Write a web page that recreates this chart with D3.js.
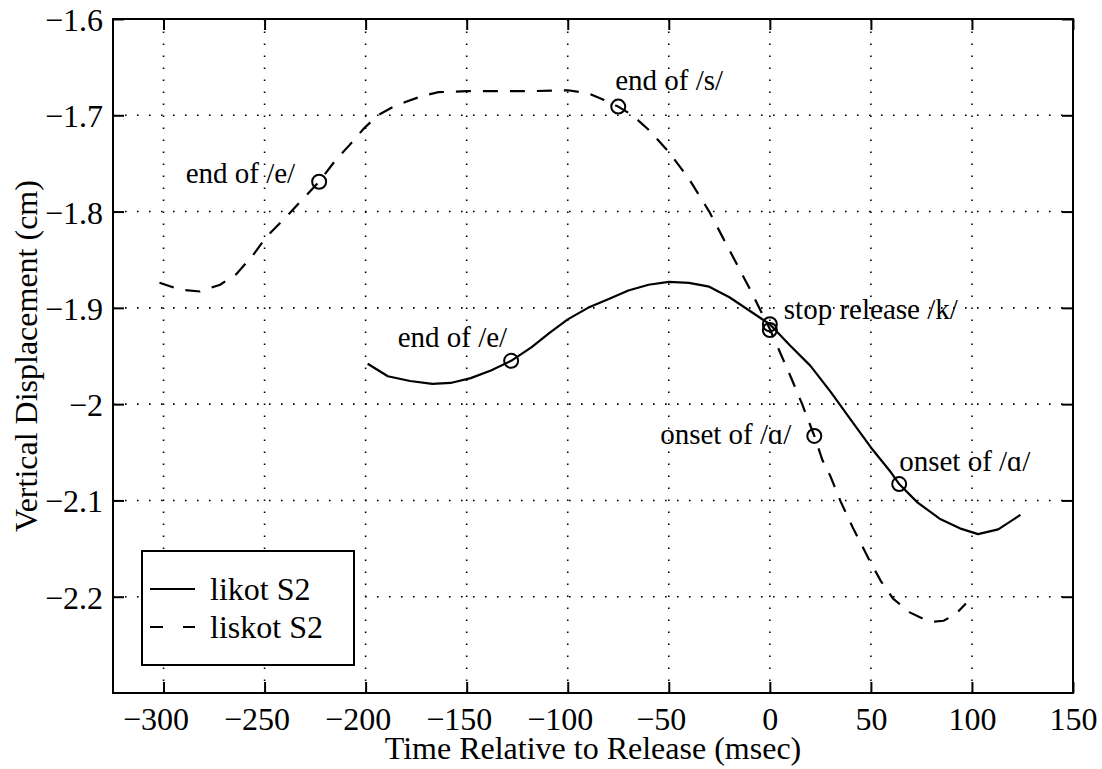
<!DOCTYPE html>
<html>
<head>
<meta charset="utf-8">
<script src="https://cdn.jsdelivr.net/npm/d3@7"></script>
<style>
  body { margin: 0; background: #fff; }
  svg { font-family: "Liberation Serif", "Times New Roman", serif; }
</style>
</head>
<body>
<script>
// likot S2 (solid)
var likotTime = [-199,-189,-178,-167,-158,-148,-138,-128,-118,-109,-100,-90,-80,-70,-60,-50,-40,-30,-20,-10,0,10,20,30,40,50,60,64,73,84,94,103,113,124];
var likotDisp = [-1.958,-1.971,-1.976,-1.979,-1.978,-1.973,-1.965,-1.955,-1.941,-1.926,-1.912,-1.900,-1.891,-1.882,-1.876,-1.873,-1.874,-1.878,-1.889,-1.903,-1.917,-1.939,-1.960,-1.987,-2.016,-2.045,-2.071,-2.083,-2.102,-2.119,-2.129,-2.135,-2.130,-2.115];

// liskot S2 (dashed)
var liskotTime = [-302,-292,-282,-272,-264,-256,-249,-240,-232,-223,-215,-208,-201,-194,-187,-180,-172,-164,-150,-135,-120,-100,-90,-82,-75,-68,-60,-50,-40,-30,-20,-10,0,10,16,22,26,30,35,41,49,55,61,69,75,81,86,92,97];
var liskotDisp = [-1.874,-1.881,-1.883,-1.876,-1.865,-1.846,-1.826,-1.807,-1.789,-1.769,-1.747,-1.731,-1.714,-1.700,-1.692,-1.686,-1.680,-1.676,-1.675,-1.675,-1.675,-1.674,-1.677,-1.684,-1.691,-1.700,-1.715,-1.738,-1.766,-1.800,-1.840,-1.880,-1.922,-1.970,-2.000,-2.033,-2.058,-2.075,-2.101,-2.128,-2.161,-2.184,-2.202,-2.216,-2.222,-2.226,-2.225,-2.218,-2.207];

// event markers
var markTime = [-223, -75, 22, -128, 0, 64, 0];
var markDisp = [-1.769, -1.691, -2.033, -1.955, -1.917, -2.083, -1.923];
var markLabel = ["end of /e/", "end of /s/", "onset of /\u0251/", "end of /e/", "stop release /k/", "onset of /\u0251/", ""];

var xTicks = [-300,-250,-200,-150,-100,-50,0,50,100,150];
var xTickLabels = ["\u2212300","\u2212250","\u2212200","\u2212150","\u2212100","\u221250","0","50","100","150"];
var yTicks = [-1.6,-1.7,-1.8,-1.9,-2.0,-2.1,-2.2];
var yTickLabels = ["\u22121.6","\u22121.7","\u22121.8","\u22121.9","\u22122","\u22122.1","\u22122.2"];

var seriesNames = ["likot S2", "liskot S2"];

// label placement relative to marker (px)
var labelPos = [
  {dx: -24, dy: 1, anchor: "end"},
  {dx: -3, dy: -17, anchor: "start"},
  {dx: -23, dy: 8, anchor: "end"},
  {dx: -4, dy: -14, anchor: "end"},
  {dx: 14, dy: -5, anchor: "start"},
  {dx: 0, dy: -13, anchor: "start"},
  null
];

var W = 1102, H = 769;
var plotL = 113, plotR = 1073, plotT = 19, plotB = 693;

var svg = d3.select("body").append("svg")
    .attr("width", W)
    .attr("height", H);

svg.append("rect").attr("width", W).attr("height", H).attr("fill", "#fff");

var x = d3.scaleLinear().domain([-325, 150]).range([plotL, plotR]);
var y = d3.scaleLinear().domain([-2.3, -1.6]).range([plotB, plotT]);

// grid
var grid = svg.append("g").attr("stroke", "#000").attr("stroke-width", 1.6)
    .attr("stroke-dasharray", "1.6,10.4");
grid.selectAll(".vg").data(xTicks.slice(0, -1))
  .enter().append("line")
    .attr("x1", function(d) { return x(d); }).attr("x2", function(d) { return x(d); })
    .attr("y1", plotB).attr("y2", plotT);
grid.selectAll(".hg").data(yTicks.slice(1))
  .enter().append("line")
    .attr("y1", function(d) { return y(d); }).attr("y2", function(d) { return y(d); })
    .attr("x1", plotL).attr("x2", plotR);

// axes with inward ticks on all four sides
var fs = 32;
var xAxisB = d3.axisBottom(x).tickValues(xTicks).tickSizeInner(-11).tickSizeOuter(0)
    .tickFormat(function(d, i) { return xTickLabels[i]; });
var xAxisT = d3.axisTop(x).tickValues(xTicks).tickSizeInner(-11).tickSizeOuter(0).tickFormat("");
var yAxisL = d3.axisLeft(y).tickValues(yTicks).tickSizeInner(-11).tickSizeOuter(0)
    .tickFormat(function(d, i) { return yTickLabels[i]; });
var yAxisR = d3.axisRight(y).tickValues(yTicks).tickSizeInner(-11).tickSizeOuter(0).tickFormat("");

function styleAxis(g) {
  g.select(".domain").remove();
  g.selectAll("line").attr("stroke", "#000").attr("stroke-width", 2);
  g.selectAll("text").attr("fill", "#000").style("font-size", fs + "px")
    .style("font-family", "Liberation Serif, serif");
}

svg.append("g").attr("transform", "translate(0," + plotB + ")").call(xAxisB).call(styleAxis)
  .selectAll("text").attr("y", 14).attr("dy", "0.71em")
    .attr("dx", function(d) { return d < 0 ? -8 : 0; });
svg.append("g").attr("transform", "translate(0," + plotT + ")").call(xAxisT).call(styleAxis);
svg.append("g").attr("transform", "translate(" + plotL + ",0)").call(yAxisL).call(styleAxis)
  .selectAll("text").attr("x", -10).attr("dy", "0.36em");
svg.append("g").attr("transform", "translate(" + plotR + ",0)").call(yAxisR).call(styleAxis);

// frame
svg.append("rect")
    .attr("x", plotL).attr("y", plotT)
    .attr("width", plotR - plotL).attr("height", plotB - plotT)
    .attr("fill", "none").attr("stroke", "#000").attr("stroke-width", 2);

var line = d3.line()
    .x(function(d) { return x(d[0]); })
    .y(function(d) { return y(d[1]); });

svg.append("path")
    .datum(d3.zip(likotTime, likotDisp))
    .attr("d", line)
    .attr("fill", "none").attr("stroke", "#000").attr("stroke-width", 2.2)
    .attr("stroke-linejoin", "round");

svg.append("path")
    .datum(d3.zip(liskotTime, liskotDisp))
    .attr("d", line)
    .attr("fill", "none").attr("stroke", "#000").attr("stroke-width", 2.2)
    .attr("stroke-dasharray", "15,12");

// markers and labels
var marks = markTime.map(function(t, i) {
  return {t: t, v: markDisp[i], label: markLabel[i], pos: labelPos[i]};
});

svg.selectAll(".mark").data(marks)
  .enter().append("circle")
    .attr("cx", function(d) { return x(d.t); })
    .attr("cy", function(d) { return y(d.v); })
    .attr("r", 7)
    .attr("fill", "none").attr("stroke", "#000").attr("stroke-width", 2);

svg.selectAll(".lbl").data(marks.filter(function(d) { return d.pos; }))
  .enter().append("text")
    .attr("x", function(d) { return x(d.t) + d.pos.dx; })
    .attr("y", function(d) { return y(d.v) + d.pos.dy; })
    .attr("text-anchor", function(d) { return d.pos.anchor; })
    .style("font-size", "29px")
    .text(function(d) { return d.label; });

// axis titles
svg.append("text")
    .attr("x", (plotL + plotR) / 2)
    .attr("y", 759)
    .attr("text-anchor", "middle")
    .style("font-size", "32px")
    .text("Time Relative to Release (msec)");

svg.append("text")
    .attr("transform", "translate(37," + (plotT + plotB) / 2 + ") rotate(-90)")
    .attr("text-anchor", "middle")
    .style("font-size", "32px")
    .text("Vertical Displacement (cm)");

// legend
var lg = svg.append("g");
lg.append("rect")
    .attr("x", 142).attr("y", 551).attr("width", 212).attr("height", 114)
    .attr("fill", "#fff").attr("stroke", "#000").attr("stroke-width", 2);
var legY = [589, 627];
lg.selectAll(".ll").data(seriesNames)
  .enter().append("line")
    .attr("x1", 150).attr("x2", 195)
    .attr("y1", function(d, i) { return legY[i]; })
    .attr("y2", function(d, i) { return legY[i]; })
    .attr("stroke", "#000").attr("stroke-width", 2)
    .attr("stroke-dasharray", function(d, i) { return i ? "13,20" : null; });
lg.selectAll(".lt").data(seriesNames)
  .enter().append("text")
    .attr("x", 210)
    .attr("y", function(d, i) { return legY[i] + 11; })
    .style("font-size", "32px")
    .text(function(d) { return d; });
</script>
</body>
</html>
